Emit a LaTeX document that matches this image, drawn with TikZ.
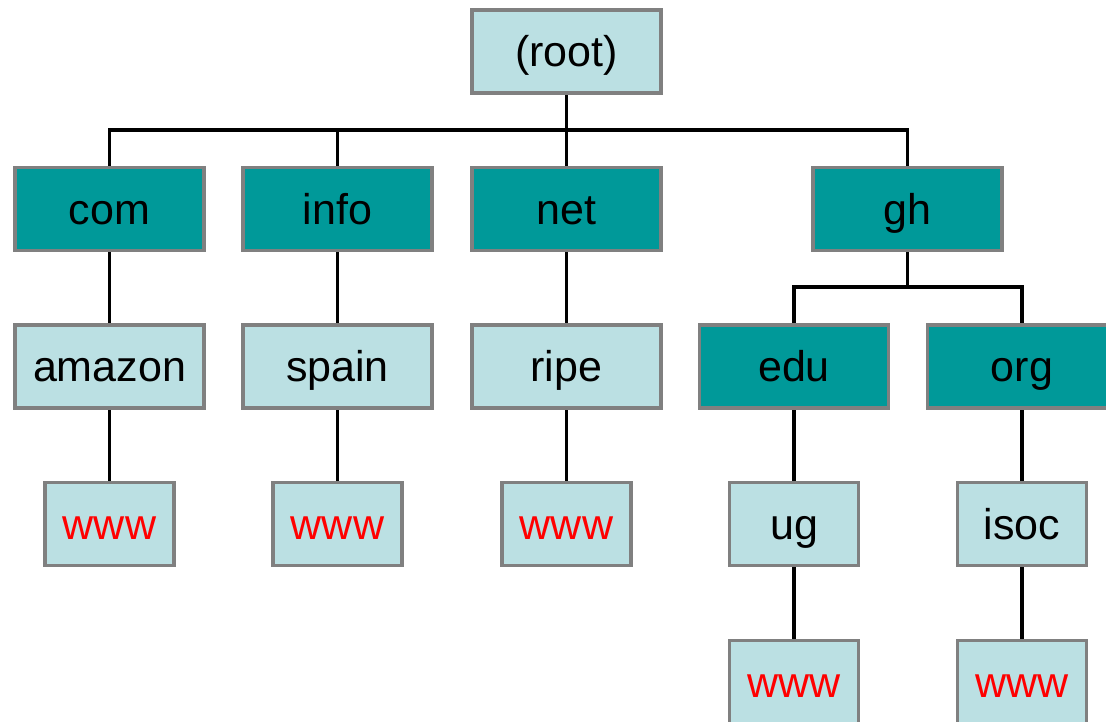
\documentclass[tikz,border=0pt]{standalone}
\usepackage{fontspec}
\setmainfont{Liberation Sans}
\pgfdeclarelayer{background}
\pgfsetlayers{background,main}
\definecolor{zonelight}{RGB}{187,224,227}
\definecolor{zonedark}{RGB}{0,153,153}
\definecolor{boxedge}{RGB}{128,128,128}
\definecolor{hostred}{RGB}{255,0,0}
\tikzset{
  box/.style={draw=boxedge, line width=3.5pt, inner sep=0pt,
    minimum width=189pt, minimum height=83pt,
    font=\fontsize{43}{43}\selectfont, text height=38pt, text depth=8pt},
  lightbox/.style={box, fill=zonelight},
  darkbox/.style={box, fill=zonedark},
  hostbox/.style={box, fill=zonelight, minimum width=129pt, text=hostred},
  conn/.style={draw=black, line width=3.5pt}
}
\begin{document}
\begin{tikzpicture}[x=1pt, y=-1pt]
\useasboundingbox (0,0) rectangle (1106,721);

% tree nodes
\node[lightbox] (root) at (566.5,51.5) {(root)};
\node[darkbox] (com)  at (109.5,209) {com};
\node[darkbox] (info) at (337.5,209) {info};
\node[darkbox] (net)  at (566.5,209) {net};
\node[darkbox] (gh)   at (907.5,209) {gh};

\node[lightbox] (amazon) at (109.5,366.5) {amazon};
\node[lightbox] (spain)  at (337.5,366.5) {spain};
\node[lightbox] (ripe)   at (566.5,366.5) {ripe};
\node[darkbox]  (edu)    at (794,366.5) {edu};
\node[darkbox]  (org)    at (1022,366.5) {org};

\node[hostbox] (w1) at (109.5,524) {www};
\node[hostbox] (w2) at (337.5,524) {www};
\node[hostbox] (w3) at (566.5,524) {www};
\node[lightbox, minimum width=129pt] (ug)   at (794,524) {ug};
\node[lightbox, minimum width=129pt] (isoc) at (1022,524) {isoc};

\node[hostbox] (w4) at (794,682) {www};
\node[hostbox] (w5) at (1022,682) {www};

% branch levels
\coordinate (bus) at (0,130);
\coordinate (ghbus) at (0,287);

\begin{pgfonlayer}{background}
  \foreach \c in {com,info,net,gh}
    \draw[conn] (root.south) -- (root.south |- bus) -| (\c.north);
  \foreach \c in {edu,org}
    \draw[conn] (gh.south) -- (gh.south |- ghbus) -| (\c.north);
  \draw[conn] (com.south) -- (amazon.north);
  \draw[conn] (info.south) -- (spain.north);
  \draw[conn] (net.south) -- (ripe.north);
  \draw[conn] (amazon.south) -- (w1.north);
  \draw[conn] (spain.south) -- (w2.north);
  \draw[conn] (ripe.south) -- (w3.north);
  \draw[conn] (edu.south) -- (ug.north);
  \draw[conn] (org.south) -- (isoc.north);
  \draw[conn] (ug.south) -- (w4.north);
  \draw[conn] (isoc.south) -- (w5.north);
\end{pgfonlayer}
\end{tikzpicture}
\end{document}
